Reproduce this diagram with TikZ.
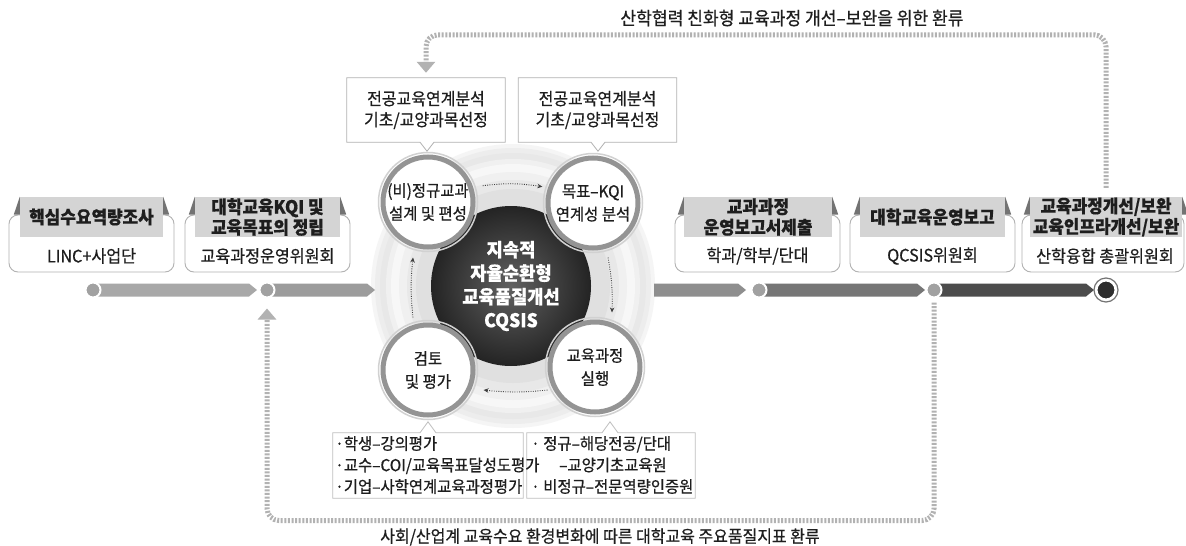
\documentclass[tikz,border=0pt]{standalone}
\usepackage{fontspec}
\setmainfont{Noto Sans CJK KR}[FakeStretch=0.94,FakeBold=0.6]
\usetikzlibrary{arrows.meta,calc}
\pgfdeclarelayer{bgw}
\pgfdeclarelayer{disk}
\pgfdeclarelayer{bars}
\pgfsetlayers{bgw,disk,bars,main}
\definecolor{txt}{HTML}{1E1E1E}
\definecolor{barA}{HTML}{A8A8A8}
\definecolor{barB}{HTML}{9C9C9C}
\definecolor{barC}{HTML}{8E8E8E}
\definecolor{barD}{HTML}{767676}
\definecolor{barE}{HTML}{4C4C4C}
\definecolor{fbcol}{HTML}{B2B2B2}
\tikzset{
  box/.style={draw=black!30, line width=0.9pt, rounded corners=9pt, fill=white, minimum width=165pt, minimum height=57pt, inner sep=0pt},
  hdr/.style={fill=black!17, minimum height=40pt, inner sep=0pt, align=center, font=\fontsize{18}{20.5}\selectfont\bfseries, text=txt},
  subt/.style={font=\fontsize{17.2}{18}\selectfont, text=txt, inner sep=0pt},
  dot/.style={circle, fill=black!37, draw=white, line width=2pt, minimum size=15pt, inner sep=0pt},
  enddot/.style={circle, fill=black!82, draw=white, line width=3pt, minimum size=20pt, inner sep=0pt},
  cyc/.style={circle, minimum size=90pt, inner sep=0pt, fill=white, draw=black!42, line width=5pt, align=center, font=\fontsize{16.4}{23}\selectfont, text=txt},
  cycarr/.style={black!75, line width=0.9pt, dash pattern=on 0.9pt off 1.4pt, -{Stealth[length=5pt,width=4.5pt]}},
  callout/.style={minimum width=158pt, minimum height=64pt, inner sep=0pt, align=center, font=\fontsize{17}{21}\selectfont, text=txt},
  cbox/.style={draw=black!30, line width=0.8pt, fill=white},
  ctext/.style={inner sep=0pt, align=left, font=\fontsize{16.4}{21.5}\selectfont, text=txt},
  lbl/.style={inner sep=0pt, font=\fontsize{17}{18}\selectfont, text=txt},
  fb/.style={draw=fbcol, line width=5pt, dash pattern=on 2pt off 1.6pt, rounded corners=12pt, -{Triangle[width=18pt,length=11pt]}}
}
\begin{document}
\begin{tikzpicture}[x=1pt,y=-1pt]
\useasboundingbox (0,0) rectangle (1186,546);
\begin{pgfonlayer}{bgw}
\fill[white] (0,0) rectangle (1186,546);
\end{pgfonlayer}

% ---------- central disk ----------
\coordinate (ctr) at (513,286);
\begin{pgfonlayer}{disk}
\fill[black!4] (ctr) circle (142);
\fill[black!7] (ctr) circle (138);
\fill[black!9] (ctr) circle (133);
\fill[black!6] (ctr) circle (127);
\fill[black!3] (ctr) circle (122);
\fill[black!6] (ctr) circle (114);
\fill[black!9] (ctr) circle (106);
\fill[black!12] (ctr) circle (97);
\end{pgfonlayer}

% ---------- timeline dots ----------
\node[dot] (d1) at (93,290) {};
\node[dot] (d2) at (267,290) {};
\node[dot] (d3) at (759,290) {};
\node[dot] (d4) at (934,290) {};
\node[enddot] (d5) at (1106,290) {};
\draw[black!55, line width=1.2pt] (d5) circle (12);
\coordinate (bl) at (375,290);
\coordinate (br) at (654,290);

% ---------- timeline bars ----------
\begin{pgfonlayer}{bars}
\fill[barA] ($(d1)+(5,-6.5)$) -- ($(d2)+(-18,-6.5)$) -- ($(d2)+(-10,0)$) -- ($(d2)+(-18,6.5)$) -- ($(d1)+(5,6.5)$) -- cycle;
\fill[barB] ($(d2)+(5,-6.5)$) -- ($(bl)+(-8,-6.5)$) -- (bl) -- ($(bl)+(-8,6.5)$) -- ($(d2)+(5,6.5)$) -- cycle;
\fill[barC] ($(br)+(0,-6.5)$) -- ($(d3)+(-21,-6.5)$) -- ($(d3)+(-13,0)$) -- ($(d3)+(-21,6.5)$) -- ($(br)+(0,6.5)$) -- cycle;
\fill[barD] ($(d3)+(5,-6.5)$) -- ($(d4)+(-17,-6.5)$) -- ($(d4)+(-9,0)$) -- ($(d4)+(-17,6.5)$) -- ($(d3)+(5,6.5)$) -- cycle;
\fill[barE] ($(d4)+(5,-6.5)$) -- ($(d5)+(-20,-6.5)$) -- ($(d5)+(-12,0)$) -- ($(d5)+(-20,6.5)$) -- ($(d4)+(5,6.5)$) -- cycle;
\end{pgfonlayer}

% ---------- upper boxes ----------
\node[box] (b1) at (91.5,243.5) {};
\node[box] (b2) at (267.5,243.5) {};
\node[box] (b3) at (757.5,243.5) {};
\node[box] (b4) at (932.5,243.5) {};
\node[box, minimum width=162pt] (b5) at (1103,243.5) {};

\node[hdr, minimum width=143pt] (h1) at (91.5,217) {핵심수요역량조사};
\node[hdr, minimum width=145pt] (h2) at (267.5,217) {대학교육KQI 및\\교육목표의 정립};
\node[hdr, minimum width=148pt] (h3) at (758,217) {교과과정\\운영보고서제출};
\node[hdr, minimum width=145pt] (h4) at (932.5,217) {대학교육운영보고};
\node[hdr, minimum width=152pt] (h5) at (1106,217) {교육과정개선/보완\\교육인프라개선/보완};

\foreach \h/\b in {h1/b1,h2/b2,h3/b3,h4/b4,h5/b5}{
  \fill[black!55] (\h.north west) -- (\h.north west |- \b.north) -- ++(-6,0) -- cycle;
  \fill[black!55] (\h.north east) -- (\h.north east |- \b.north) -- ++(6,0) -- cycle;
}

\node[subt] (s1) at (91.5,256) {LINC+사업단};
\node[subt] (s2) at (267.5,256) {교육과정운영위원회};
\node[subt] (s3) at (757.5,256) {학과/학부/단대};
\node[subt] (s4) at (932.5,256) {QCSIS위원회};
\node[subt] (s5) at (1105,256) {산학융합 총괄위원회};

% ---------- cycle ----------
\node[circle, minimum size=160pt, inner sep=0pt, inner color=black!62, outer color=black!86,
      align=center, text=white, font=\fontsize{18.8}{23.5}\selectfont\bfseries] (core) at (511,286)
      {지속적\\자율순환형\\교육품질개선\\CQSIS};

\foreach \p in {(428,202),(593,203),(595,367),(428,370)}{
  \draw[black!18, line width=1.5pt] \p circle (49.5);
}
\node[cyc] (c1) at (428,202) {(비)정규교과\\설계 및 편성};
\node[cyc] (c2) at (593,203) {목표–KQI\\연계성 분석};
\node[cyc] (c3) at (595,367) {교육과정\\실행};
\node[cyc] (c4) at (428,370) {검토\\및 평가};

\draw[cycarr] ([xshift=10pt]c1.20) to[bend left=8] ([xshift=-6pt]c2.160);
\draw[cycarr] ([xshift=15pt,yshift=-7pt]c2.south) to[bend left=6] ([xshift=17pt,yshift=7pt]c3.north);
\draw[cycarr] ([yshift=-23pt]c3.west) to[bend left=6] ([xshift=8pt,yshift=-20pt]c4.east);
\draw[cycarr] ([xshift=-15pt,yshift=5pt]c4.north) to[bend left=6] ([xshift=-15pt,yshift=-8pt]c1.south);

% ---------- callouts ----------
\node[callout] (ca) at (426,110) {};
\node[callout] (cb) at (597.5,110) {};
\draw[cbox] (ca.north west) -- (ca.north east) -- (ca.south east) -- ([xshift=8pt]ca.south) -- ++(-7,9) -- ++(-7,-9) -- (ca.south west) -- cycle;
\draw[cbox] (cb.north west) -- (cb.north east) -- (cb.south east) -- ([xshift=7.5pt]cb.south) -- ++(-7,9) -- ++(-7,-9) -- (cb.south west) -- cycle;
\node[callout] (cat) at (ca) {전공교육연계분석\\기초/교양과목선정};
\node[callout] (cbt) at (cb) {전공교육연계분석\\기초/교양과목선정};

\node[callout, minimum width=190pt, minimum height=65pt] (cc) at (428,465.5) {};
\node[callout, minimum width=168pt, minimum height=65pt] (cd) at (611,465.5) {};
\draw[cbox, draw=black!25] (cc.south west) -- (cc.north west) -- ([xshift=-8pt]cc.north) -- ++(8,-11) -- ++(8,11) -- (cc.north east) -- (cc.south east) -- cycle;
\draw[cbox, draw=black!25] (cd.south west) -- (cd.north west) -- ([xshift=-9pt]cd.north) -- ++(8,-11) -- ++(8,11) -- (cd.north east) -- (cd.south east) -- cycle;
\node[ctext, anchor=west] (cct) at (335,465) {·학생–강의평가\\·교수–COI/교육목표달성도평가\\·기업–사학연계교육과정평가};
\node[ctext, anchor=west] (cdt) at (531,465) {· 정규–해당전공/단대\\\hspace*{28pt}–교양기초교육원\\· 비정규–전문역량인증원};

% ---------- feedback loops ----------
\draw[fb] ([yshift=9pt]h5.north) |- ([yshift=43pt]ca.north) -- ([yshift=5pt]ca.north);
\draw[fb] ([yshift=-4pt]d4.south) |- ([yshift=-222pt]d2.south) -- ([yshift=-10pt]d2.south);

\node[lbl, font=\fontsize{18.2}{18}\selectfont] (toplbl) at (792,18) {산학협력 친화형 교육과정 개선–보완을 위한 환류};
\node[lbl] (botlbl) at (600,537) {사회/산업계 교육수요 환경변화에 따른 대학교육 주요품질지표 환류};
\end{tikzpicture}
\end{document}
